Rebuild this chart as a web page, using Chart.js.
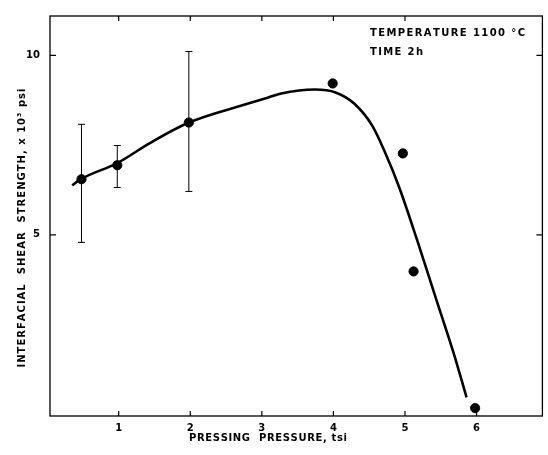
<!DOCTYPE html>
<html><head><meta charset="utf-8">
<script src="https://cdn.jsdelivr.net/npm/chart.js@4.4.0/dist/chart.umd.min.js"></script>
<style>html,body{margin:0;padding:0;background:#fff}#wrap{width:548px;height:455px}</style>
</head><body><div id="wrap"><canvas id="c" width="548" height="455"></canvas></div>
<script>
// Measured points (pressing pressure, tsi ; shear strength, x10^3 psi)
const pressure = [0.48, 0.98, 1.98, 3.99, 4.97, 5.12, 5.98];
const strength = [6.55, 6.94, 8.13, 9.22, 7.27, 3.98, 0.17];
const errLow  = [4.79, 6.32, 6.21, null, null, null, null];
const errHigh = [8.08, 7.49, 10.11, null, null, null, null];
// Hand-drawn fitted curve
const curveX = [0.35, 0.47, 0.98, 1.43, 1.98, 2.81, 3.09, 3.27, 3.74, 4.03, 4.29, 4.54, 4.71, 4.92, 5.17, 5.44, 5.68, 5.86];
const curveY = [6.38, 6.55, 7.00, 7.55, 8.13, 8.66, 8.83, 8.94, 9.05, 8.97, 8.66, 8.05, 7.35, 6.32, 4.85, 3.18, 1.70, 0.47];
const xTicks = [1, 2, 3, 4, 5, 6];
const xTopTicks = [1, 2, 3, 4, 5];
const yTicks = [5, 10];
const xTitle = 'PRESSING  PRESSURE, tsi';
const yTitle = 'INTERFACIAL  SHEAR  STRENGTH, x 10³ psi';
const note1 = 'TEMPERATURE 1100 °C';
const note2 = 'TIME 2h';

const FONT = '"DejaVu Sans", sans-serif';

function spacedText(ctx, text, x, y, width, align) {
  // draws text with letter spacing so that it spans `width` pixels
  const chars = Array.from(text);
  const ws = chars.map(c => ctx.measureText(c).width);
  const natural = ws.reduce((a, b) => a + b, 0);
  const sp = width ? (width - natural) / Math.max(1, chars.length - 1) : 0;
  const total = natural + sp * (chars.length - 1);
  let cx = align === 'center' ? x - total / 2 : x;
  ctx.textAlign = 'left';
  chars.forEach((c, i) => { ctx.fillText(c, cx, y); cx += ws[i] + sp; });
}

const deco = {
  id: 'deco',
  beforeDatasetsDraw(chart) {
    const {ctx, scales: {x, y}} = chart;
    ctx.save();
    ctx.strokeStyle = '#000';
    ctx.lineWidth = 1;
    pressure.forEach((p, i) => {
      if (errLow[i] == null) return;
      const px = x.getPixelForValue(p);
      const y1 = y.getPixelForValue(errLow[i]);
      const y2 = y.getPixelForValue(errHigh[i]);
      ctx.beginPath();
      ctx.moveTo(px, y1); ctx.lineTo(px, y2);
      ctx.moveTo(px - 3.5, y1); ctx.lineTo(px + 3.5, y1);
      ctx.moveTo(px - 3.5, y2); ctx.lineTo(px + 3.5, y2);
      ctx.stroke();
    });
    ctx.restore();
  },
  afterDraw(chart) {
    const {ctx, chartArea: a, scales: {x, y}} = chart;
    ctx.save();
    ctx.strokeStyle = '#000';
    ctx.lineWidth = 1.3;
    ctx.strokeRect(a.left, a.top, a.right - a.left, a.bottom - a.top);
    ctx.lineWidth = 1.2;
    ctx.beginPath();
    xTicks.forEach(v => { const px = x.getPixelForValue(v); ctx.moveTo(px, a.bottom); ctx.lineTo(px, a.bottom - 5); });
    xTopTicks.forEach(v => { const px = x.getPixelForValue(v); ctx.moveTo(px, a.top); ctx.lineTo(px, a.top + 5); });
    yTicks.forEach(v => { const py = y.getPixelForValue(v); ctx.moveTo(a.left, py); ctx.lineTo(a.left + 6, py); ctx.moveTo(a.right, py); ctx.lineTo(a.right - 6, py); });
    ctx.stroke();

    ctx.fillStyle = '#000';
    ctx.textBaseline = 'middle';
    ctx.font = 'bold 10px ' + FONT;
    spacedText(ctx, xTitle, 268, 438, 158, 'center');
    spacedText(ctx, note1, 370, 33, 155, 'left');
    spacedText(ctx, note2, 370, 52, 53, 'left');
    ctx.translate(22, 228);
    ctx.rotate(-Math.PI / 2);
    spacedText(ctx, yTitle, 0, 0, 279, 'center');
    ctx.restore();
  }
};

new Chart(document.getElementById('c'), {
  type: 'scatter',
  data: {
    datasets: [
      {
        type: 'line',
        data: curveX.map((v, i) => ({x: v, y: curveY[i]})),
        borderColor: '#000', borderWidth: 2.6, pointRadius: 0,
        cubicInterpolationMode: 'monotone', fill: false
      },
      {
        data: pressure.map((v, i) => ({x: v, y: strength[i]})),
        pointRadius: 4.6, backgroundColor: '#000', borderColor: '#000', showLine: false
      }
    ]
  },
  options: {
    responsive: false, animation: false, devicePixelRatio: 1,
    layout: {padding: {top: 15, right: 3, left: 0, bottom: 0}},
    plugins: {legend: {display: false}, tooltip: {enabled: false}},
    scales: {
      x: {
        type: 'linear', min: 0.04, max: 6.92,
        afterBuildTicks: s => { s.ticks = xTicks.map(v => ({value: v})); },
        afterFit: s => { s.height = 39; },
        grid: {display: false, drawTicks: false}, border: {display: false},
        ticks: {color: '#000', padding: 6, font: {family: FONT, weight: 'bold', size: 10}}
      },
      y: {
        type: 'linear', min: -0.05, max: 11.1,
        afterBuildTicks: s => { s.ticks = yTicks.map(v => ({value: v})); },
        afterFit: s => { s.width = 50; },
        grid: {display: false, drawTicks: false}, border: {display: false},
        ticks: {color: '#000', padding: 10, font: {family: FONT, weight: 'bold', size: 10}}
      }
    }
  },
  plugins: [deco]
});
</script></body></html>
